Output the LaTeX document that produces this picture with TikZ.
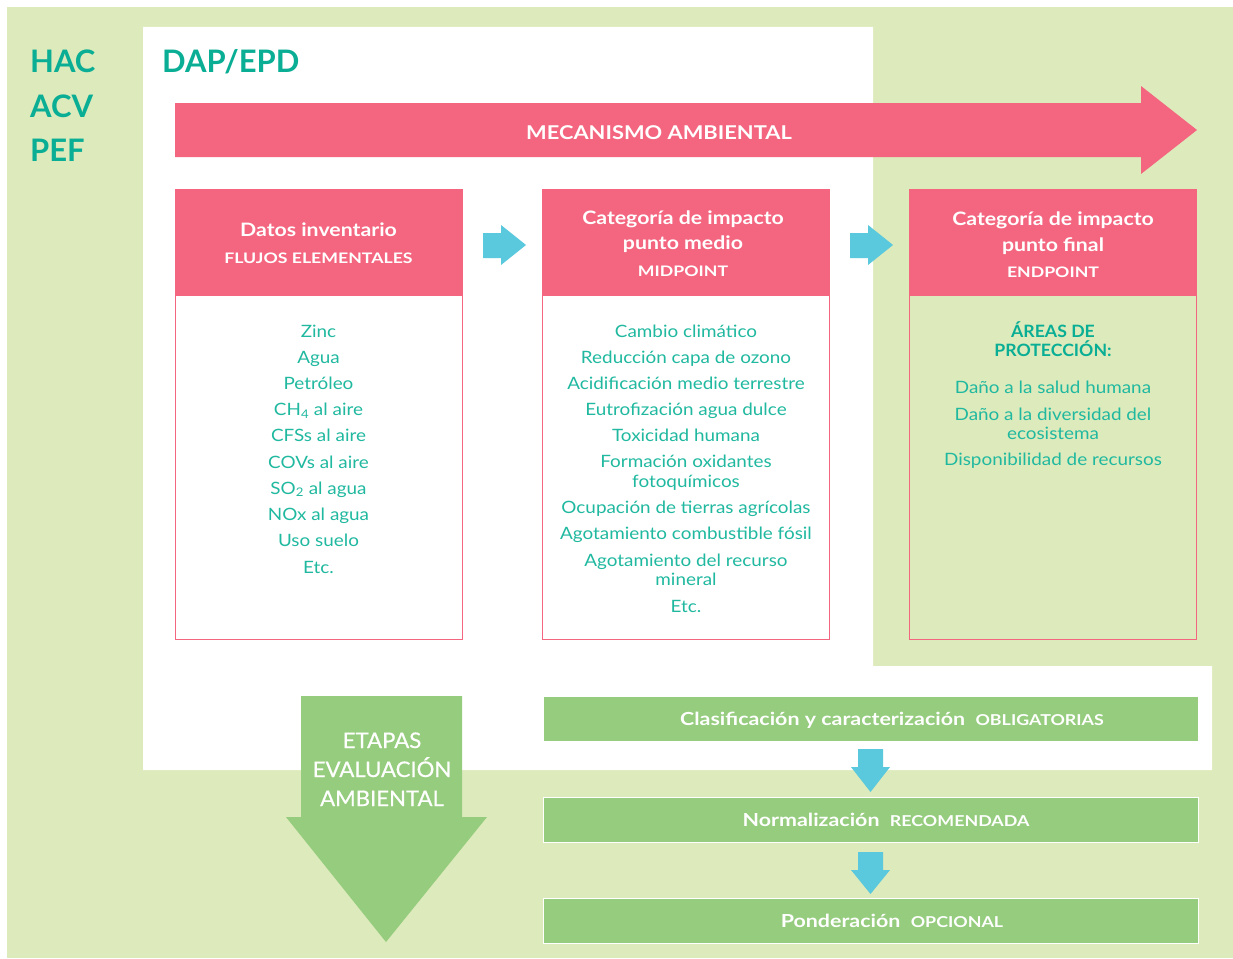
\documentclass[tikz,border=0pt]{standalone}
\usepackage{fontspec}
\setmainfont{Lato}
\usetikzlibrary{calc}
\definecolor{bgGreen}{HTML}{DDEABB}
\definecolor{pinkMain}{HTML}{F4657F}
\definecolor{tealTitle}{HTML}{0AAE95}
\definecolor{tealBody}{HTML}{20B9A0}
\definecolor{cyanArrow}{HTML}{5AC8DD}
\definecolor{greenBar}{HTML}{95CC7D}
\newcommand{\fs}[1]{\fontsize{#1}{#1}\selectfont}
\newcommand{\wide}[1]{\addfontfeature{FakeStretch=#1}}
\newcommand{\barsmallfont}{\fs{15}\wide{1.19}}
\begin{document}
\begin{tikzpicture}[x=1pt,y=-1pt,
  titletext/.style={font=\fs{31}\bfseries, text=tealTitle, anchor=base west, inner sep=0},
  headtext/.style={font=\fs{18.5}\bfseries\wide{1.15}, text=white, anchor=base, inner sep=0},
  headsmall/.style={font=\fs{14.5}\bfseries\wide{1.22}, text=white, anchor=base, inner sep=0},
  bodytext/.style={font=\fs{17}\wide{1.11}, text=tealBody, anchor=base, inner sep=0},
  bodybold/.style={font=\fs{17}\bfseries\wide{1.04}, text=tealTitle, anchor=base, inner sep=0},
  boxframe/.style={draw=pinkMain, line width=1pt, anchor=north west, minimum width=287, minimum height=450, inner sep=0},
  boxhead/.style={draw=pinkMain, fill=pinkMain, line width=1pt, anchor=north west, minimum width=287, minimum height=106, inner sep=0},
  stagebar/.style={fill=greenBar, draw=white, line width=1pt, anchor=north west, minimum width=655, minimum height=45, inner sep=0},
  bartext/.style={font=\fs{18}\bfseries\wide{1.19}, text=white, anchor=base, inner sep=0},
  stagetext/.style={font=\fs{21.5}\wide{1.03}\addfontfeature{FakeBold=0.6}, text=white, anchor=base, inner sep=0},
  blockarrow/.style={fill=cyanArrow}
]
\useasboundingbox (0,0) rectangle (1233,958);

% backgrounds
\fill[bgGreen] (7,7) rectangle (1233,958);
\fill[white] (143,27) -- (873,27) -- (873,666) -- (1212,666) -- (1212,770) -- (143,770) -- cycle;

% scope labels
\node[titletext] (hac) at (30,72) {HAC};
\node[titletext] (acv) at (30,117) {ACV};
\node[titletext] (pef) at (30,161) {PEF};
\node[titletext] (dap) at (162,72) {DAP/EPD};

% environmental mechanism arrow
\fill[pinkMain] (175,103) -- (1141,103) -- (1141,86) -- (1197,130) -- (1141,174) -- (1141,157) -- (175,157) -- cycle;
\node[font=\fs{19}\bfseries\wide{1.15}, text=white, anchor=base, inner sep=0] (mec) at (659,139) {MECANISMO AMBIENTAL};

% three category boxes
\node[boxframe, fill=white] (inv) at (175,189) {};
\node[boxhead] (invh) at (175,189) {};
\node[boxframe, fill=white] (mid) at (542,189) {};
\node[boxhead] (midh) at (542,189) {};
\node[boxframe, fill=bgGreen] (end) at (909,189) {};
\node[boxhead] (endh) at (909,189) {};

% box headers
\node[headtext] (invt1) at (318.5,236) {Datos inventario};
\node[headsmall] (invt2) at (318.5,263) {FLUJOS ELEMENTALES};
\node[headtext] (midt1) at (683,224) {Categoría de impacto};
\node[headtext] (midt2) at (683,249) {punto medio};
\node[headsmall] (midt3) at (683,276) {MIDPOINT};
\node[headtext] (endt1) at (1053,225) {Categoría de impacto};
\node[headtext] (endt2) at (1053,251) {punto final};
\node[headsmall] (endt3) at (1053,277) {ENDPOINT};

% inventory flows
\foreach \yy/\txt [count=\i] in {337/Zinc, 363/Agua, 389.5/Petróleo, 415.5/{CH\textsubscript{4} al aire},
    441.5/CFSs al aire, 468/COVs al aire, 494/{SO\textsubscript{2} al agua}, 520.5/NOx al agua,
    546.5/Uso suelo, 573/Etc.}
  \node[bodytext] (inv\i) at (318.5,\yy) {\txt};

% midpoint categories
\foreach \yy/\txt [count=\i] in {337/Cambio climático, 363/Reducción capa de ozono,
    389/Acidificación medio terrestre, 415/Eutrofización agua dulce, 441/Toxicidad humana,
    467/Formación oxidantes, 487/fotoquímicos, 513/Ocupación de tierras agrícolas,
    539/Agotamiento combustible fósil, 566/Agotamiento del recurso, 585/mineral, 612/Etc.}
  \node[bodytext] (mid\i) at (686,\yy) {\txt};

% endpoint areas of protection
\node[bodybold] (areas1) at (1053,337) {ÁREAS DE};
\node[bodybold] (areas2) at (1053,356) {PROTECCIÓN:};
\foreach \yy/\txt [count=\i] in {393/Daño a la salud humana, 420/Daño a la diversidad del,
    439/ecosistema, 465/Disponibilidad de recursos}
  \node[bodytext] (end\i) at (1053,\yy) {\txt};

% arrows between the boxes
\fill[blockarrow] (483,233) -- (501,233) -- (501,225) -- (526,245) -- (501,265) -- (501,258) -- (483,258) -- cycle;
\fill[blockarrow] (850,233) -- (868,233) -- (868,225) -- (893,245) -- (868,265) -- (868,258) -- (850,258) -- cycle;

% assessment stages arrow
\fill[greenBar] (301,696) -- (462,696) -- (462,817) -- (487,817) -- (386,942) -- (286,817) -- (301,817) -- cycle;
\node[stagetext] (et1) at (382,748) {ETAPAS};
\node[stagetext] (et2) at (382,777) {EVALUACIÓN};
\node[stagetext] (et3) at (382,806) {AMBIENTAL};

% stage bars
\node[stagebar] (clas) at (543,696) {};
\node[stagebar] (norm) at (543,797) {};
\node[stagebar] (pond) at (543,898) {};
\node[bartext] (clast) at (892,725) {Clasificación y caracterización\ \ {\barsmallfont OBLIGATORIAS}};
\node[bartext] (normt) at (886,826) {Normalización\ \ {\barsmallfont RECOMENDADA}};
\node[bartext] (pondt) at (892,927) {Ponderación\ \ {\barsmallfont OPCIONAL}};

% arrows between the stage bars
\fill[blockarrow] (858,749) -- (883,749) -- (883,767) -- (890,767) -- (870.5,792) -- (851,767) -- (858,767) -- cycle;
\fill[blockarrow] (858,852) -- (883,852) -- (883,870) -- (890,870) -- (870.5,894) -- (851,870) -- (858,870) -- cycle;
\end{tikzpicture}
\end{document}
